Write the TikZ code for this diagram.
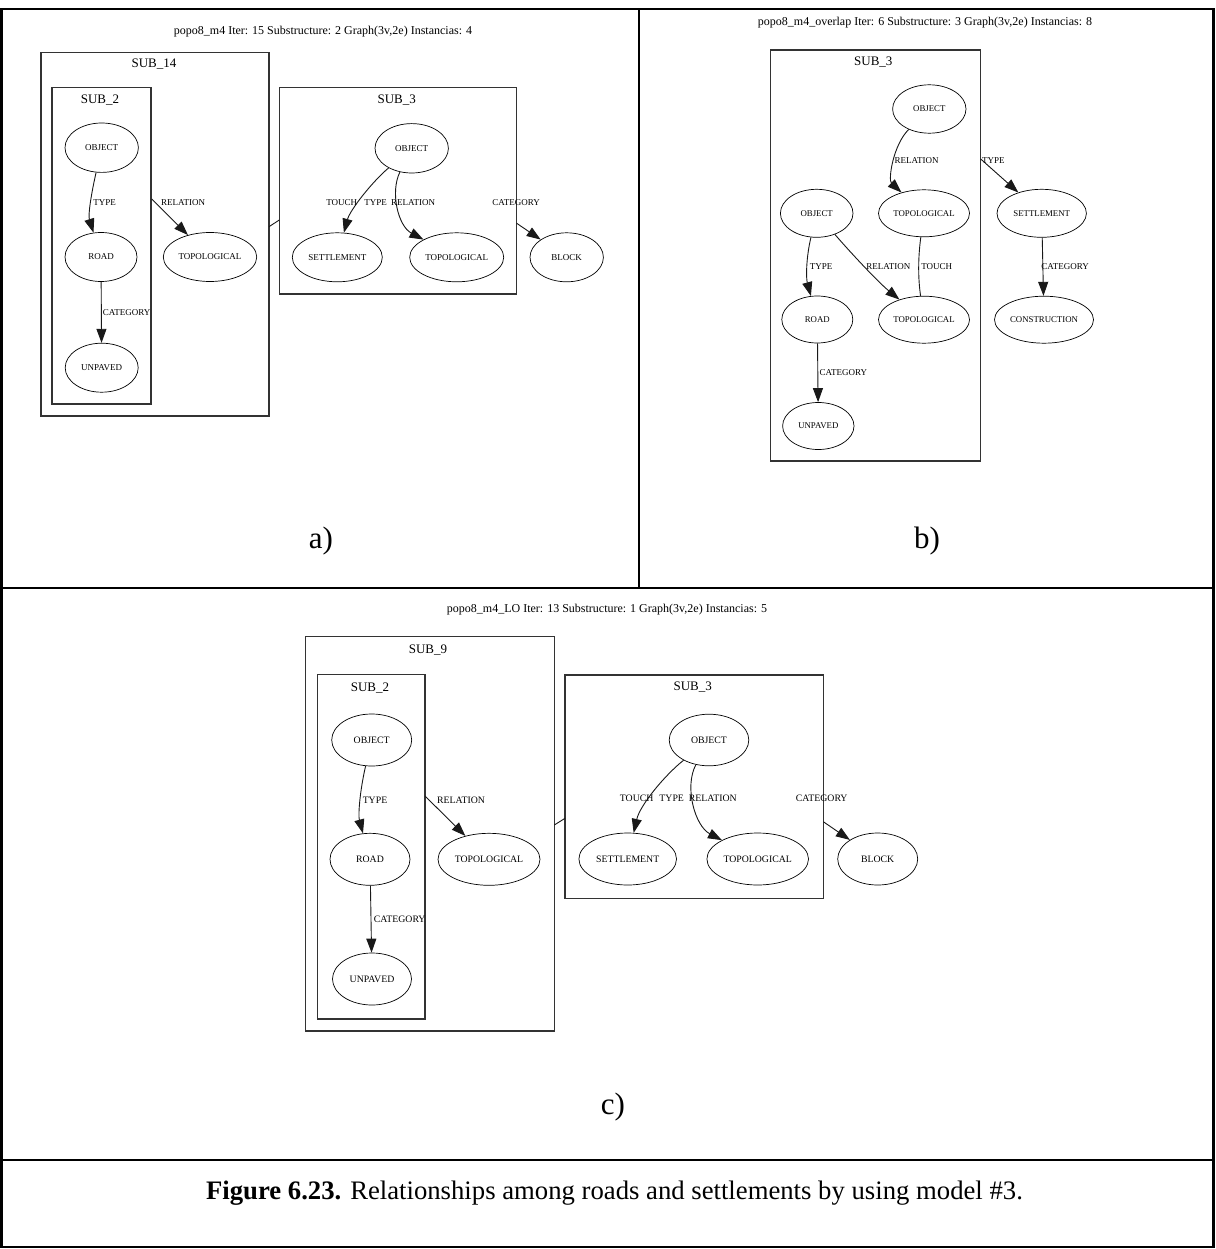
\documentclass[tikz,border=0pt]{standalone}
\usepackage{fontspec}
\setmainfont{Liberation Serif}
\usetikzlibrary{arrows.meta,shapes.geometric}
\tikzset{
  frame/.style={line width=2.6pt, draw=black},
  clus/.style={draw=black!80, line width=1.1pt},
  nd/.style={ellipse, draw=black, line width=0.7pt, inner sep=0pt},
  nda/.style={nd, font=\fontsize{9}{9}\selectfont},
  ndb/.style={nd, font=\fontsize{8.8}{8.8}\selectfont},
  ndc/.style={nd, font=\fontsize{9.8}{9.8}\selectfont},
  edge/.style={draw=black!90, line width=0.9pt},
  arr/.style={edge, -{Triangle[length=14pt,width=10pt]}},
  elab/.style={inner sep=0pt, font=\fontsize{9}{9}\selectfont},
  elabc/.style={inner sep=0pt, font=\fontsize{9.8}{9.8}\selectfont},
  clab/.style={inner sep=0pt, font=\fontsize{13}{13}\selectfont},
  ttl/.style={inner sep=0pt, font=\fontsize{12}{12}\selectfont},
  plab/.style={inner sep=0pt, font=\fontsize{31}{31}\selectfont},
  captext/.style={inner sep=0pt, font=\fontsize{26.7}{26.7}\selectfont},
}
\begin{document}
\begin{tikzpicture}[x=1pt,y=-1pt]
\useasboundingbox (0,0) rectangle (1215,1249);
% frame
\draw[frame] (1.5,9) rectangle (1213.5,1247);
\draw[frame] (639,9) -- (639,588);
\draw[frame] (1.5,588) -- (1213.5,588);
\draw[frame] (1.5,1160) -- (1213.5,1160);

% ---------------- panel a ----------------
\node[ttl] (a_title) at (323,31.5) {popo8\_m4 Iter: 15 Substructure: 2 Graph(3v,2e) Instancias: 4};
\draw[clus] (41,52.7) rectangle (269,416);
\draw[clus] (52,87.7) rectangle (151,404);
\draw[clus] (279.3,87.3) rectangle (516.7,294);
\node[clab] (a_sub14) at (154,64.5) {SUB\_14};
\node[clab] (a_sub2) at (100,100) {SUB\_2};
\node[clab] (a_sub3) at (396.7,100) {SUB\_3};

\node[nda, minimum width=73.4pt, minimum height=49.4pt] (a_obj) at (101.7,147.7) {OBJECT};
\node[nda, minimum width=72pt, minimum height=49pt] (a_road) at (101,257) {ROAD};
\node[nda, minimum width=73pt, minimum height=49pt] (a_unp) at (101.7,367.7) {UNPAVED};
\node[nda, minimum width=93.4pt, minimum height=49pt] (a_topo) at (210,257) {TOPOLOGICAL};
\node[nda, minimum width=73.4pt, minimum height=49.4pt] (a_obj2) at (411.7,148.3) {OBJECT};
\node[nda, minimum width=90pt, minimum height=49pt] (a_sett) at (337.3,257.3) {SETTLEMENT};
\node[nda, minimum width=94pt, minimum height=49pt] (a_topo2) at (456.7,257.3) {TOPOLOGICAL};
\node[nda, minimum width=73.4pt, minimum height=49pt] (a_block) at (566.7,257.3) {BLOCK};

\coordinate (a_rel0) at (151.7,199);
\coordinate (a_link0) at (269,226.7);
\coordinate (a_link1) at (279.3,220);
\coordinate (a_cat0) at (516.7,223.3);

\draw[arr] (a_obj) .. controls (91,195) and (88,215) .. (a_road);
\draw[arr] (a_road) -- (a_unp);
\draw[arr] (a_rel0) -- (a_topo);
\draw[edge] (a_link0) -- (a_link1);
\draw[arr] (a_obj2) .. controls (372,182) and (350,210) .. (a_sett);
\draw[arr] (a_obj2) .. controls (390,192) and (398,226) .. (a_topo2);
\draw[arr] (a_cat0) -- (a_block);

\node[elab] (a_l1) at (104.7,203) {TYPE};
\node[elab] (a_l2) at (126.7,312.7) {CATEGORY};
\node[elab] (a_l3) at (183,203) {RELATION};
\node[elab] (a_l4) at (341.7,202.3) {TOUCH};
\node[elab] (a_l5) at (375.7,202.3) {TYPE};
\node[elab] (a_l6) at (413,202.3) {RELATION};
\node[elab] (a_l7) at (516,202.3) {CATEGORY};

\node[plab] (a_lab) at (321,541) {a)};

% ---------------- panel b ----------------
\node[ttl] (b_title) at (925,22.3) {popo8\_m4\_overlap Iter: 6 Substructure: 3 Graph(3v,2e) Instancias: 8};
\draw[clus] (770.7,50) rectangle (980.7,461);
\node[clab] (b_sub3) at (873.3,61.7) {SUB\_3};

\node[ndb, minimum width=73.4pt, minimum height=48.4pt] (b_obj1) at (929.3,109) {OBJECT};
\node[ndb, minimum width=91pt, minimum height=47pt] (b_topo1) at (924,213.3) {TOPOLOGICAL};
\node[ndb, minimum width=72.6pt, minimum height=48pt] (b_obj2) at (816.7,213.3) {OBJECT};
\node[ndb, minimum width=89.4pt, minimum height=48pt] (b_sett) at (1041.7,213.3) {SETTLEMENT};
\node[ndb, minimum width=71pt, minimum height=47pt] (b_road) at (817.3,319.5) {ROAD};
\node[ndb, minimum width=91pt, minimum height=47pt] (b_topo2) at (924,319.7) {TOPOLOGICAL};
\node[ndb, minimum width=99pt, minimum height=47pt] (b_cons) at (1044,319.7) {CONSTRUCTION};
\node[ndb, minimum width=71.4pt, minimum height=47pt] (b_unp) at (818.3,426) {UNPAVED};

\coordinate (b_type0) at (980.7,159);

\draw[arr] (b_obj1) .. controls (893,145) and (888,180) .. (b_topo1);
\draw[arr] (b_type0) -- (b_sett);
\draw[edge] (b_topo1) .. controls (918,258) and (918,278) .. (b_topo2);
\draw[arr] (b_obj2) .. controls (806,258) and (806,278) .. (b_road);
\draw[arr] (b_obj2) .. controls (850,252) and (878,282) .. (b_topo2);
\draw[arr] (b_sett) -- (b_cons);
\draw[arr] (b_road) -- (b_unp);

\node[elab] (b_l1) at (916.7,161) {RELATION};
\node[elab] (b_l2) at (993.3,161) {TYPE};
\node[elab] (b_l3) at (936.7,266.7) {TOUCH};
\node[elab] (b_l4) at (821,266.7) {TYPE};
\node[elab] (b_l5) at (888.3,266.7) {RELATION};
\node[elab] (b_l6) at (1065,266.7) {CATEGORY};
\node[elab] (b_l7) at (843.3,372.7) {CATEGORY};

\node[plab] (b_lab) at (927,541) {b)};

% ---------------- panel c ----------------
\node[ttl] (c_title) at (607,610) {popo8\_m4\_LO Iter: 13 Substructure: 1 Graph(3v,2e) Instancias: 5};
\draw[clus] (305.7,636.7) rectangle (554.3,1031);
\draw[clus] (317.7,674.3) rectangle (425,1019);
\draw[clus] (565,675) rectangle (823.3,898.3);
\node[clab] (c_sub9) at (428,650) {SUB\_9};
\node[clab] (c_sub2) at (370,688.3) {SUB\_2};
\node[clab] (c_sub3) at (692.7,687.3) {SUB\_3};

\node[ndc, minimum width=80pt, minimum height=52pt] (c_obj) at (371.7,740) {OBJECT};
\node[ndc, minimum width=80pt, minimum height=52pt] (c_road) at (370,859.3) {ROAD};
\node[ndc, minimum width=79pt, minimum height=52pt] (c_unp) at (372,979) {UNPAVED};
\node[ndc, minimum width=102pt, minimum height=52pt] (c_topo) at (489,859.3) {TOPOLOGICAL};
\node[ndc, minimum width=79.6pt, minimum height=51.6pt] (c_obj2) at (709,740) {OBJECT};
\node[ndc, minimum width=97.6pt, minimum height=52pt] (c_sett) at (627.7,859) {SETTLEMENT};
\node[ndc, minimum width=101.6pt, minimum height=52pt] (c_topo2) at (757.7,859) {TOPOLOGICAL};
\node[ndc, minimum width=80pt, minimum height=52pt] (c_block) at (877.7,859) {BLOCK};

\coordinate (c_rel0) at (425,796);
\coordinate (c_link0) at (554.3,825);
\coordinate (c_link1) at (565,818.3);
\coordinate (c_cat0) at (823.3,821.7);

\draw[arr] (c_obj) .. controls (360,790) and (358,815) .. (c_road);
\draw[arr] (c_road) -- (c_unp);
\draw[arr] (c_rel0) -- (c_topo);
\draw[edge] (c_link0) -- (c_link1);
\draw[arr] (c_obj2) .. controls (665,775) and (640,805) .. (c_sett);
\draw[arr] (c_obj2) .. controls (684,787) and (695,826) .. (c_topo2);
\draw[arr] (c_cat0) -- (c_block);

\node[elabc] (c_l1) at (375,800) {TYPE};
\node[elabc] (c_l2) at (399.7,919.3) {CATEGORY};
\node[elabc] (c_l3) at (461,800) {RELATION};
\node[elabc] (c_l4) at (636.7,798.3) {TOUCH};
\node[elabc] (c_l5) at (671.7,798.3) {TYPE};
\node[elabc] (c_l6) at (712.7,798.3) {RELATION};
\node[elabc] (c_l7) at (821.7,798.3) {CATEGORY};

\node[plab] (c_lab) at (613,1107) {c)};

% caption
\node[captext] (caption) at (614.5,1193) {\textbf{Figure 6.23.} Relationships among roads and settlements by using model \#3.};
\end{tikzpicture}
\end{document}
